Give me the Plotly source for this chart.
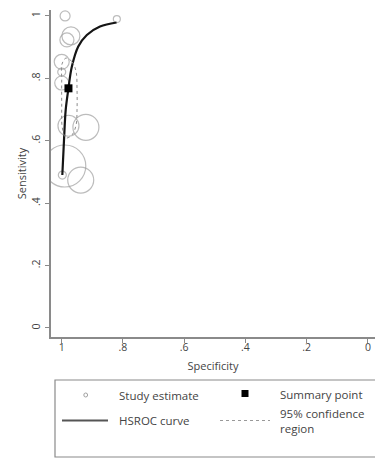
import plotly.graph_objects as go

# Individual study estimates (specificity, sensitivity, marker diameter ~ study weight)
study_spec = [0.989, 0.820, 0.970, 0.983, 1.000, 1.000, 1.000, 0.978, 0.921, 0.990, 0.938, 0.998]
study_sens = [1.000, 0.990, 0.936, 0.923, 0.853, 0.820, 0.785, 0.648, 0.643, 0.519, 0.474, 0.490]
study_size = [10, 7, 18, 14, 15, 8, 14, 21, 26, 42, 26, 8]

# HSROC curve
curve_spec = [0.998, 0.9925, 0.987, 0.978, 0.967, 0.946, 0.918, 0.875, 0.821]
curve_sens = [0.490, 0.603, 0.699, 0.768, 0.837, 0.902, 0.939, 0.966, 0.979]

# Summary operating point
summary_spec = [0.978]
summary_sens = [0.768]

# 95% confidence region around the summary point
region_spec = [0.986, 0.966, 0.953, 0.950, 0.950, 0.953, 0.966, 0.986, 0.998, 1.000, 1.000, 0.999, 0.986]
region_sens = [0.865, 0.853, 0.821, 0.763, 0.699, 0.651, 0.619, 0.609, 0.641, 0.715, 0.795, 0.846, 0.865]

tick_vals = [1, 0.8, 0.6, 0.4, 0.2, 0]
tick_text = ["1", ".8", ".6", ".4", ".2", "0"]

legend_labels = ["Study estimate", "Summary point", "HSROC curve", "95% confidence<br>region"]

W, H = 375, 458
ML, MR, MT, MB = 51, 0, 10, 121
PW, PH = W - ML - MR, H - MT - MB

def px(x):
    return (x - ML) / PW

def py(y):
    return (H - MB - y) / PH

FONT = "Open Sans"
TXT = "#444444"
GRAY = "#a0a0a0"

fig = go.Figure()

fig.add_trace(go.Scatter(
    x=study_spec, y=study_sens, mode="markers",
    marker=dict(symbol="circle-open", size=study_size, sizemode="diameter",
                color=GRAY, line=dict(width=1.2, color=GRAY)),
    showlegend=False, hoverinfo="skip"))

fig.add_trace(go.Scatter(
    x=curve_spec, y=curve_sens, mode="lines",
    line=dict(color="#151515", width=2.2, shape="spline"),
    showlegend=False, hoverinfo="skip"))

fig.add_trace(go.Scatter(
    x=region_spec, y=region_sens, mode="lines",
    line=dict(color="#8c8c8c", width=1, dash="dot", shape="spline"),
    showlegend=False, hoverinfo="skip"))

fig.add_trace(go.Scatter(
    x=summary_spec, y=summary_sens, mode="markers",
    marker=dict(symbol="square", size=8, color="#000000"),
    showlegend=False, hoverinfo="skip"))

axis_common = dict(
    showgrid=False, zeroline=False, showline=True, linecolor="#8a8a8a", linewidth=1.5,
    ticks="outside", ticklen=4, tickwidth=1, tickcolor="#8a8a8a",
    tickvals=tick_vals, ticktext=tick_text,
    tickfont=dict(family=FONT, size=10.5, color=TXT),
)

fig.update_xaxes(range=[1.035, -0.023], ticklabelstandoff=-4,
                 title=dict(text="Specificity", standoff=9,
                            font=dict(family=FONT, size=11, color=TXT)), **axis_common)
fig.update_yaxes(range=[-0.029, 1.019], tickangle=-90, ticklabelstandoff=1,
                 title=dict(text="Sensitivity", standoff=0,
                            font=dict(family=FONT, size=11, color=TXT)), **axis_common)

shapes = []
annotations = []

# Legend frame
shapes.append(dict(type="rect", xref="paper", yref="paper",
                   x0=px(55), x1=px(390), y0=py(457), y1=py(380),
                   line=dict(color="#8a8a8a", width=1.2), fillcolor="rgba(0,0,0,0)"))
# Legend glyphs
shapes.append(dict(type="circle", xref="paper", yref="paper",
                   x0=px(83.8), x1=px(87.6), y0=py(397), y1=py(393),
                   line=dict(color=GRAY, width=1), fillcolor="rgba(0,0,0,0)"))
shapes.append(dict(type="rect", xref="paper", yref="paper",
                   x0=px(241.5), x1=px(248.5), y0=py(397), y1=py(390),
                   line=dict(color="#000000", width=0), fillcolor="#000000"))
shapes.append(dict(type="line", xref="paper", yref="paper",
                   x0=px(62), x1=px(108), y0=py(420.5), y1=py(420.5),
                   line=dict(color="#555555", width=2.2)))
shapes.append(dict(type="line", xref="paper", yref="paper",
                   x0=px(220), x1=px(270), y0=py(420.5), y1=py(420.5),
                   line=dict(color="#999999", width=1, dash="dot")))

label_pos = [(117, 395), (278, 394), (117, 420.5), (278, 421)]
for text, (lx, ly) in zip(legend_labels, label_pos):
    annotations.append(dict(xref="paper", yref="paper", x=px(lx), y=py(ly),
                            xanchor="left", yanchor="middle", showarrow=False,
                            align="left", text=text,
                            font=dict(family=FONT, size=11.5, color=TXT)))

fig.update_layout(
    width=W, height=H, margin=dict(l=ML, r=MR, t=MT, b=MB),
    paper_bgcolor="white", plot_bgcolor="white",
    shapes=shapes, annotations=annotations, showlegend=False,
)

fig.write_html("out.html")
